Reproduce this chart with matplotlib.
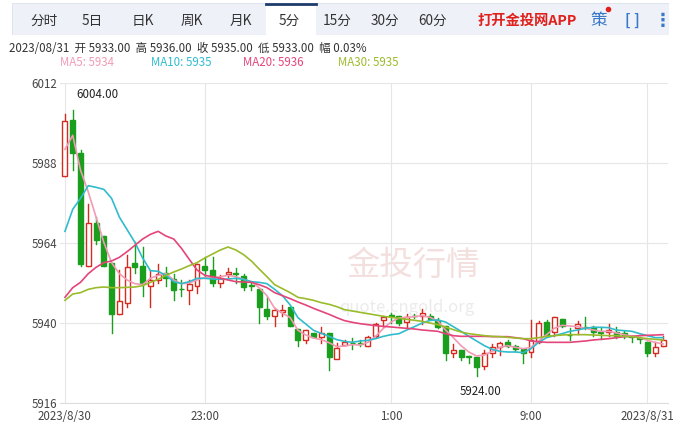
import numpy as np
import matplotlib
matplotlib.use("Agg")
import matplotlib.pyplot as plt
from matplotlib.patches import Rectangle

plt.rcParams['font.family'] = ['Noto Sans CJK SC', 'DejaVu Sans']

# 5-minute candles
opens = [5984.1, 6001.0, 5991.1, 5957.1, 5970.1, 5966.1, 5958.1, 5942.8, 5946.1, 5957.9,
         5957.2, 5951.0, 5952.9, 5955.1, 5953.1, 5950.3, 5949.9, 5951.0, 5957.2, 5956.0,
         5952.0, 5954.6, 5955.0, 5954.0, 5951.3, 5950.3, 5944.2, 5942.1, 5943.2, 5944.9,
         5938.1, 5935.0, 5937.1, 5935.9, 5937.1, 5929.1, 5933.5, 5934.1, 5934.0, 5933.2,
         5936.2, 5940.9, 5942.4, 5942.2, 5940.3, 5942.2, 5942.2, 5942.2, 5941.0, 5939.1,
         5930.9, 5932.0, 5930.1, 5929.9, 5927.1, 5931.0, 5932.9, 5934.3, 5933.0, 5932.1,
         5931.3, 5934.2, 5940.3, 5937.2, 5941.2, 5936.5, 5938.4, 5938.9, 5938.9, 5937.3,
         5937.2, 5937.2, 5937.0, 5936.0, 5935.5, 5934.2, 5931.1, 5933.0]
closes = [6000.5, 5990.9, 5957.8, 5969.9, 5965.0, 5957.2, 5942.8, 5946.6, 5956.9, 5956.7,
          5952.0, 5952.9, 5954.8, 5953.4, 5949.9, 5950.1, 5951.8, 5957.8, 5955.9, 5952.0,
          5953.6, 5955.4, 5954.8, 5950.8, 5951.1, 5944.7, 5942.1, 5943.8, 5943.9, 5939.0,
          5935.0, 5937.8, 5935.8, 5937.1, 5929.8, 5932.6, 5934.4, 5933.9, 5933.8, 5935.9,
          5939.8, 5941.9, 5942.2, 5940.0, 5941.9, 5942.0, 5942.9, 5941.2, 5938.9, 5931.0,
          5932.0, 5929.9, 5929.9, 5926.8, 5930.9, 5932.9, 5933.9, 5933.2, 5932.1, 5930.9,
          5934.8, 5940.0, 5936.2, 5941.9, 5939.1, 5936.3, 5939.8, 5938.7, 5937.2, 5937.1,
          5937.9, 5936.2, 5936.0, 5935.8, 5935.3, 5931.1, 5932.7, 5935.0]
highs = [6002.7, 6004.0, 5991.8, 5975.8, 5971.8, 5966.1, 5958.1, 5955.8, 5960.5, 5964.2,
         5962.8, 5955.8, 5957.8, 5956.7, 5954.8, 5952.9, 5952.9, 5957.8, 5959.7, 5959.7,
         5954.4, 5956.4, 5956.5, 5954.8, 5952.0, 5950.3, 5947.7, 5944.6, 5945.4, 5944.9,
         5938.1, 5937.8, 5937.1, 5938.8, 5937.1, 5934.0, 5934.9, 5935.5, 5934.9, 5936.0,
         5940.0, 5942.2, 5942.9, 5942.2, 5942.8, 5942.8, 5944.1, 5942.8, 5941.4, 5939.1,
         5933.7, 5932.0, 5930.1, 5929.9, 5931.8, 5933.7, 5934.2, 5934.8, 5933.4, 5932.3,
         5940.9, 5940.6, 5940.9, 5941.9, 5941.2, 5938.6, 5940.6, 5941.9, 5939.1, 5938.9,
         5939.6, 5938.7, 5937.5, 5936.2, 5935.9, 5934.4, 5934.2, 5936.0]
lows = [5984.1, 5985.9, 5957.2, 5957.1, 5963.8, 5957.2, 5936.9, 5942.8, 5944.9, 5955.0,
        5948.0, 5944.9, 5952.0, 5951.0, 5946.8, 5948.2, 5945.8, 5949.1, 5953.9, 5951.0,
        5950.8, 5953.9, 5952.0, 5949.9, 5949.9, 5939.9, 5941.1, 5939.0, 5942.1, 5939.0,
        5933.1, 5934.0, 5935.8, 5934.0, 5926.0, 5932.6, 5933.5, 5932.2, 5933.2, 5933.0,
        5935.9, 5938.9, 5940.0, 5939.4, 5938.9, 5941.5, 5939.8, 5940.8, 5938.5, 5929.0,
        5929.9, 5929.0, 5928.0, 5924.0, 5926.1, 5929.9, 5930.4, 5932.8, 5931.5, 5928.0,
        5929.9, 5934.0, 5936.0, 5936.0, 5938.9, 5935.0, 5936.8, 5938.2, 5936.0, 5935.2,
        5936.0, 5935.5, 5935.6, 5934.4, 5934.1, 5930.1, 5930.1, 5933.0]

ma5 = [5992.1, 5996.3, 5985.9, 5979.3, 5971.8, 5964.2, 5958.1, 5954.8, 5952.9, 5951.8,
       5951.5, 5953.4, 5954.3, 5954.8, 5952.9, 5951.8, 5952.0, 5952.9, 5953.7, 5953.4,
       5953.9, 5954.3, 5953.9, 5953.1, 5952.4, 5950.6, 5948.2, 5944.4, 5943.0, 5941.6,
       5937.8, 5936.4, 5935.5, 5935.0, 5934.1, 5932.9, 5933.1, 5933.5, 5933.4, 5934.2,
       5936.0, 5938.4, 5940.3, 5941.5, 5941.7, 5941.9, 5942.2, 5941.7, 5940.6, 5937.9,
       5935.6, 5933.2, 5931.3, 5930.1, 5930.4, 5931.5, 5932.7, 5933.2, 5932.7, 5932.3,
       5932.7, 5934.6, 5936.5, 5938.4, 5939.3, 5939.1, 5938.9, 5938.4, 5937.9, 5937.5,
       5937.5, 5937.0, 5936.5, 5936.0, 5935.6, 5934.8, 5934.2, 5933.7]
ma10 = [5967.5, 5974.1, 5977.4, 5981.2, 5980.7, 5980.1, 5977.4, 5971.8, 5968.0, 5964.2,
        5959.5, 5955.7, 5955.5, 5954.3, 5952.4, 5951.8, 5952.4, 5953.4, 5953.4, 5953.2,
        5953.1, 5953.2, 5953.4, 5953.1, 5952.4, 5952.2, 5951.8, 5950.1, 5948.2, 5945.4,
        5941.6, 5939.7, 5937.8, 5936.9, 5936.0, 5935.0, 5934.5, 5934.2, 5934.6, 5934.8,
        5935.3, 5936.0, 5936.5, 5936.8, 5937.9, 5938.9, 5940.0, 5940.8, 5940.9, 5940.3,
        5938.9, 5937.5, 5936.0, 5934.6, 5933.2, 5932.1, 5931.5, 5931.3, 5931.3, 5931.1,
        5932.3, 5934.2, 5935.6, 5936.2, 5936.8, 5937.5, 5937.9, 5938.4, 5938.7, 5938.7,
        5938.6, 5937.9, 5937.7, 5937.5, 5936.8, 5936.2, 5935.6, 5935.6]
ma20 = [5947.7, 5950.6, 5952.2, 5954.8, 5956.7, 5958.1, 5958.6, 5959.7, 5961.4, 5963.3,
        5965.2, 5966.6, 5967.5, 5966.1, 5965.2, 5962.4, 5959.1, 5955.9, 5954.3, 5953.9,
        5953.4, 5952.9, 5952.4, 5952.3, 5952.2, 5951.5, 5950.6, 5949.1, 5948.2, 5947.3,
        5946.3, 5945.4, 5944.4, 5943.5, 5942.6, 5941.6, 5940.7, 5940.2, 5939.8, 5939.5,
        5939.2, 5939.0, 5938.8, 5938.6, 5938.4, 5938.2, 5937.9, 5937.7, 5937.5, 5936.8,
        5936.2, 5936.0, 5936.0, 5936.0, 5936.0, 5935.9, 5935.9, 5935.9, 5935.6, 5935.3,
        5934.6, 5934.4, 5934.2, 5934.2, 5934.2, 5934.2, 5934.4, 5934.6, 5934.9, 5935.1,
        5935.3, 5935.6, 5935.9, 5936.0, 5936.2, 5936.3, 5936.4, 5936.5]
ma30 = [5946.8, 5948.7, 5949.1, 5950.1, 5950.6, 5950.8, 5950.6, 5950.6, 5950.7, 5950.8,
        5951.2, 5952.2, 5953.1, 5954.3, 5955.3, 5956.2, 5957.2, 5958.1, 5959.5, 5960.7,
        5961.9, 5962.8, 5961.9, 5960.5, 5958.6, 5956.2, 5953.9, 5951.5, 5950.3, 5949.1,
        5947.7, 5947.3, 5946.8, 5946.1, 5945.6, 5944.9, 5944.0, 5943.6, 5943.2, 5942.8,
        5942.4, 5942.0, 5941.7, 5941.4, 5941.1, 5940.8, 5940.5, 5940.0, 5939.5, 5938.8,
        5938.0, 5937.3, 5936.8, 5936.5, 5936.2, 5936.0, 5935.9, 5935.7, 5935.5, 5935.3,
        5935.3, 5935.6, 5936.0, 5936.2, 5936.4, 5936.5, 5936.5, 5936.5, 5936.4, 5936.3,
        5936.2, 5936.2, 5936.0, 5935.9, 5935.6, 5935.3, 5935.1, 5934.9]

y_ticks = [5916, 5940, 5964, 5988, 6012]
time_ticks = [0, 18, 42, 60, 75]
time_labels = ['2023/8/30', '23:00', '1:00', '9:00', '2023/8/31']
tabs = ['分时', '5日', '日K', '周K', '月K', '5分', '15分', '30分', '60分']

UP = '#d42a20'
DOWN = '#1a9e1e'

fig = plt.figure(figsize=(6.81, 4.25), dpi=100)

# tab bar (coordinates in pixels from x=12)
bar = fig.add_axes([12 / 681, 0.918, 657 / 681, 0.075])
bar.set_xlim(0, 657)
bar.set_ylim(0, 1)
bar.axis('off')
bar.add_patch(Rectangle((0, 0), 657, 1, facecolor='#eef2f8', edgecolor='#dfe5ee', lw=0.8))
bar.add_patch(Rectangle((254, 0), 50, 1, facecolor='white', edgecolor='none'))
bar.plot([254, 304], [0.97, 0.97], color='#1d3a6b', lw=2)
tab_x = [32, 80, 131, 180, 229, 277, 325, 373, 421]
for t, xx in zip(tabs, tab_x):
    bar.text(xx, 0.45, t, ha='center', va='center', fontsize=9.8, color='#333333')
bar.text(515, 0.45, '打开金投网APP', ha='center', va='center', fontsize=10.3, color='#e0201c', fontweight='bold')
bar.text(587, 0.45, '策', ha='center', va='center', fontsize=12, color='#3a78c8')
bar.plot([596], [0.8], 'o', color='#e0201c', ms=3)
bar.text(620, 0.45, '[ ]', ha='center', va='center', fontsize=11, color='#3a78c8', fontweight='bold')
bar.text(651, 0.45, '⋮', ha='center', va='center', fontsize=13, color='#3a78c8', fontweight='bold')

fig.text(0.013, 0.886, '2023/08/31  开 5933.00  高 5936.00  收 5935.00  低 5933.00  幅 0.03%',
         fontsize=8.3, color='#333333', va='center')
for label, col, xx in [('MA5: 5934', '#f29ab5', 0.088), ('MA10: 5935', '#30bccd', 0.222),
                       ('MA20: 5936', '#e4457a', 0.357), ('MA30: 5935', '#9abb2b', 0.496)]:
    fig.text(xx, 0.852, label, fontsize=8.3, color=col, va='center')

ax = fig.add_axes([60 / 681, 1 - 403 / 425, 608 / 681, 320 / 425])
n = len(opens)
x = np.arange(n)
for i in range(n):
    o, c, h, l = opens[i], closes[i], highs[i], lows[i]
    col = UP if c >= o else DOWN
    ax.plot([x[i], x[i]], [l, h], color=col, lw=1, zorder=3)
    bot = min(o, c)
    hgt = max(abs(c - o), 0.15)
    face = 'white' if c >= o else col
    ax.add_patch(Rectangle((x[i] - 0.32, bot), 0.64, hgt, facecolor=face, edgecolor=col, lw=1, zorder=4))

ax.plot(x, ma5, color='#f29ab5', lw=1.2, zorder=5)
ax.plot(x, ma10, color='#30bccd', lw=1.2, zorder=5)
ax.plot(x, ma20, color='#e4457a', lw=1.2, zorder=5)
ax.plot(x, ma30, color='#9abb2b', lw=1.2, zorder=5)

ax.text(4.2, 6006.5, '6004.00', ha='center', va='bottom', fontsize=8.3, color='#222222')
ax.text(53.5, 5921.5, '5924.00', ha='center', va='top', fontsize=8.3, color='#222222')

# watermark
ax.text(0.58, 0.43, '金投行情', transform=ax.transAxes, fontsize=24, color='#f3e0de',
        ha='center', va='center', zorder=1)
ax.text(0.57, 0.30, 'quote.cngold.org', transform=ax.transAxes, fontsize=12, color='#ebebeb',
        ha='center', va='center', zorder=1)

ax.set_xlim(-0.64, n - 1 + 0.64)
ax.set_ylim(5916, 6012)
ax.set_yticks(y_ticks)
ax.set_yticklabels([str(v) for v in y_ticks])
ax.set_xticks(time_ticks)
ax.set_xticklabels(time_labels)
ax.grid(True, color='#e6e6e6', lw=0.8, zorder=0)
ax.tick_params(length=0, labelsize=8.3, colors='#444444', pad=5)
ax.tick_params(axis='y', pad=2)
for s in ax.spines.values():
    s.set_visible(False)
ax.spines['bottom'].set_visible(True)
ax.spines['bottom'].set_color('#dddddd')

fig.savefig('out.png', dpi=100)
